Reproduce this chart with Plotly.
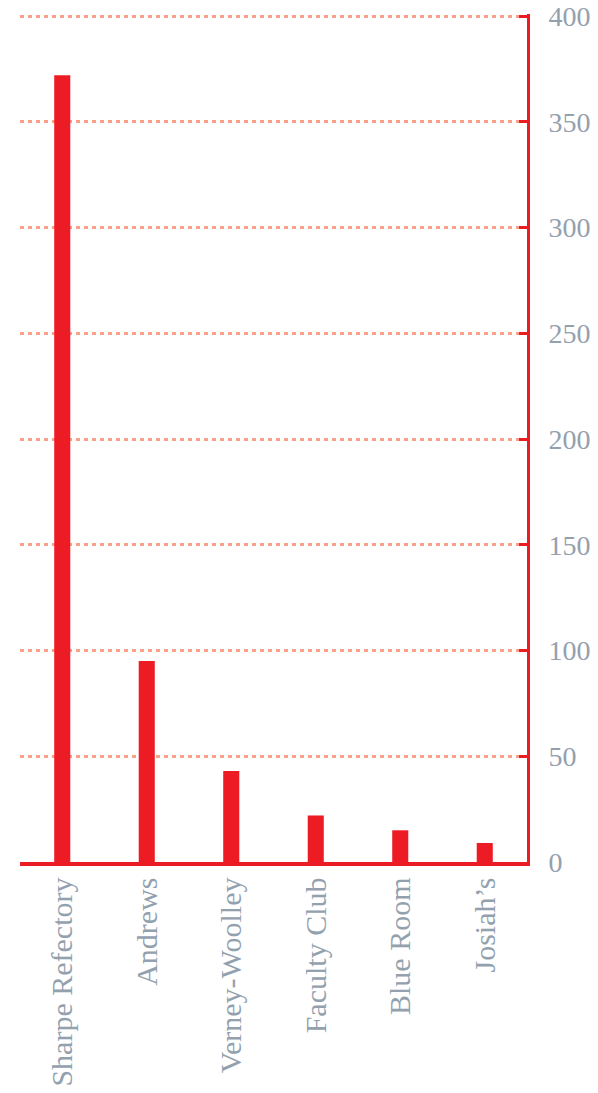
import plotly.graph_objects as go

categories = ["Sharpe Refectory", "Andrews", "Verney-Woolley", "Faculty Club", "Blue Room", "Josiah\u2019s"]
values = [372, 95, 43, 22, 15, 9]
tick_vals = [0, 50, 100, 150, 200, 250, 300, 350, 400]

RED = "#ED1C24"
GRID = "#F9A088"
LABEL = "#93A1AE"
FONT = "Liberation Serif, DejaVu Serif, serif"

fig = go.Figure(go.Bar(x=categories, y=values, marker=dict(color=RED, line=dict(width=0))))

fig.update_layout(
    width=598, height=1093,
    margin=dict(l=20, r=71, t=14, b=231, autoexpand=False),
    paper_bgcolor="white", plot_bgcolor="white",
    bargap=0.81,
    showlegend=False,
    font=dict(family=FONT, color=LABEL, size=28),
)
fig.update_xaxes(
    type="category",
    showgrid=False, zeroline=False,
    showline=True, linecolor=RED, linewidth=3.5,
    ticks="", tickangle=-90,
    tickfont=dict(family=FONT, color=LABEL, size=30),
    ticklabelstandoff=0,
    automargin=False,
)
fig.update_yaxes(
    side="right", range=[0, 401],
    tickvals=tick_vals,
    showgrid=True, gridcolor=GRID, gridwidth=3, griddash="4px,4px",
    zeroline=False,
    showline=True, linecolor=RED, linewidth=3,
    ticks="inside", ticklen=8, tickwidth=3, tickcolor=RED,
    tickfont=dict(family=FONT, color=LABEL, size=28),
    ticklabelstandoff=13,
    ticklabeloverflow="allow",
    automargin=False,
)
fig.write_html(
    "out.html",
    config={"displayModeBar": False, "staticPlot": True},
    post_script="document.body.style.margin='0';",
)
